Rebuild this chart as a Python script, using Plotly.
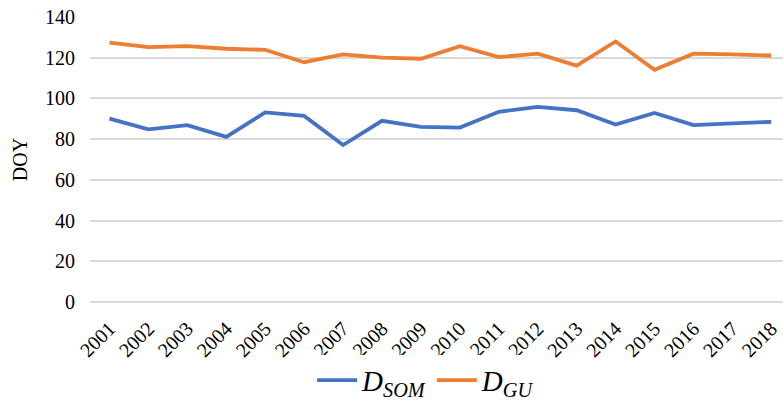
import plotly.graph_objects as go

years = [str(y) for y in range(2001, 2019)]
d_som = [90.1, 84.8, 86.9, 81.1, 93.1, 91.4, 77.1, 89.0, 86.0, 85.7, 93.4, 95.8, 94.2, 87.2, 92.9, 86.9, 87.7, 88.5]
d_gu = [127.4, 125.2, 125.7, 124.4, 123.9, 117.8, 121.6, 120.0, 119.5, 125.7, 120.3, 122.0, 116.1, 128.0, 114.1, 122.0, 121.6, 121.1]
y_ticks = [0, 20, 40, 60, 80, 100, 120, 140]

serif = "Liberation Serif"

fig = go.Figure()
fig.add_trace(go.Scatter(x=years, y=d_som, mode="lines",
                         name="<i>D</i><sub><i>SOM</i></sub>",
                         line=dict(color="#4472C4", width=3.8)))
fig.add_trace(go.Scatter(x=years, y=d_gu, mode="lines",
                         name="<i>D</i><sub><i>GU</i></sub>",
                         line=dict(color="#ED7D31", width=3.8)))

fig.update_layout(
    width=783, height=412,
    margin=dict(l=90, r=0, t=17, b=110, autoexpand=False),
    plot_bgcolor="white", paper_bgcolor="white",
    font=dict(family=serif, color="#000000", size=20),
    showlegend=True,
    legend=dict(orientation="h", x=0.485, xanchor="center", y=-0.185, yanchor="top",
                font=dict(size=29, family=serif), itemwidth=40, tracegroupgap=0),
    xaxis=dict(type="category", range=[-0.5, 17.3], tickangle=-45,
               showgrid=False, showline=False, ticks="", ticklabelstandoff=10,
               tickfont=dict(size=20, family=serif)),
    yaxis=dict(range=[0, 140], tickvals=y_ticks, showgrid=True, gridcolor="#D9D9D9",
               gridwidth=1.5, zeroline=True, zerolinecolor="#D9D9D9", zerolinewidth=1.5,
               ticks="", ticklabelstandoff=14,
               title=dict(text="DOY", font=dict(size=20, family=serif), standoff=12),
               tickfont=dict(size=20, family=serif)),
)

fig.write_html("out.html", config={"displayModeBar": False},
               post_script="document.body.style.margin='0';document.body.style.padding='0';")
